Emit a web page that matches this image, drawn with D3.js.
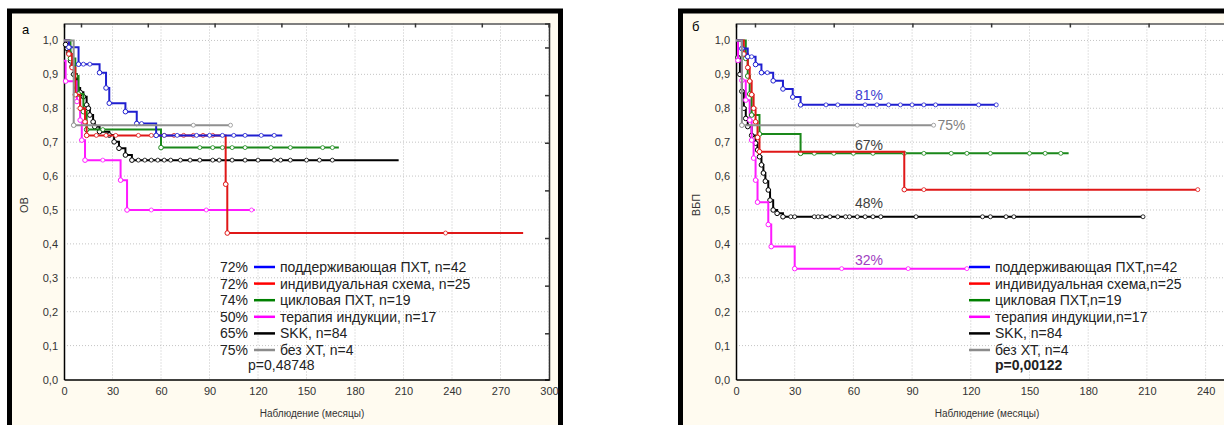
<!DOCTYPE html>
<html>
<head>
<meta charset="utf-8">
<script src="https://cdn.jsdelivr.net/npm/d3@7"></script>
<style>
body { margin: 0; background: #fff; }
text { font-family: "Liberation Sans", Arial, sans-serif; }
</style>
</head>
<body>
<script>
// tick labels
var xTicksOS = [0, 30, 60, 90, 120, 150, 180, 210, 240, 270, 300],
    xTicksPFS = [0, 30, 60, 90, 120, 150, 180, 210, 240],
    yTicks = [0, 0.1, 0.2, 0.3, 0.4, 0.5, 0.6, 0.7, 0.8, 0.9, 1.0];

var colors = ["#1f1fd0", "#e01818", "#1a881a", "#ff1aff", "#000000", "#909090"];
var legendColors = ["#0000ff", "#ff0000", "#008000", "#ff00ff", "#000000", "#8c8c8c"];

// legend texts
var osLabels = ["поддерживающая ПХТ, n=42", "индивидуальная схема, n=25", "цикловая ПХТ,  n=19",
                "терапия индукции, n=17", "SKK, n=84", "без ХТ, n=4"];
var osPct = ["72%", "72%", "74%", "50%", "65%", "75%"];
var osP = "p=0,48748";
var pfsLabels = ["поддерживающая ПХТ,n=42", "индивидуальная схема,n=25", "цикловая ПХТ,n=19",
                 "терапия индукции,n=17", "SKK, n=84", "без ХТ, n=4"];
var pfsP = "p=0,00122";

// OS curves: [month, survival], last point = end of follow-up
var osBlue = [[0,1],[3,0.98],[9,0.93],[22,0.905],[26,0.86],[28,0.815],[38,0.79],[45,0.755],[57,0.72],[135,0.72]];
var osRed = [[0,1],[3,0.96],[5,0.92],[7,0.84],[10,0.8],[13,0.76],[14,0.72],[100,0.576],[101,0.432],[284,0.432]];
var osGreen = [[0,1],[4,0.947],[7,0.895],[9,0.842],[12,0.79],[14,0.737],[60,0.684],[170,0.684]];
var osMagenta = [[0,0.94],[1,0.88],[8,0.82],[10,0.765],[11,0.706],[13,0.647],[35,0.588],[39,0.5],[118,0.5]];
var osBlack = [[0,1],[1,0.988],[2,0.976],[3,0.964],[4,0.94],[5,0.923],[6,0.9],[8,0.86],[10,0.847],[12,0.834],
               [14,0.81],[15,0.8],[16,0.78],[18,0.76],[19,0.746],[22,0.731],[28,0.721],[31,0.701],[34,0.682],
               [38,0.662],[42,0.647],[207,0.647]];
var osGray = [[0,1],[6,0.75],[103,0.75]];

var osBlueCens = [12, 16, 48, 62, 70, 82, 90, 98, 105, 112, 122, 130];
var osRedCens = [20, 26, 32, 46, 54, 62, 68, 74, 80, 86, 92, 236];
var osGreenCens = [24, 84, 92, 98, 104, 112, 128, 140, 160, 166];
var osMagentaCens = [24, 54, 88, 116];
var osBlackCens = [46, 50, 54, 58, 62, 66, 72, 78, 84, 92, 96, 104, 112, 120, 130, 134, 140, 150, 158, 166];
var osGrayCens = [80, 103];

// PFS curves
var pfsBlue = [[0,1],[3,0.976],[6,0.952],[10,0.929],[13,0.905],[19,0.881],[24,0.857],[29,0.833],[33,0.81],[133,0.81]];
var pfsRed = [[0,1],[4,0.96],[6,0.92],[7,0.88],[8,0.84],[9,0.8],[10,0.76],[11,0.714],[12,0.672],[86,0.56],[236,0.56]];
var pfsGreen = [[0,1],[5,0.947],[6,0.895],[7,0.842],[8,0.78],[12,0.724],[33,0.667],[170,0.667]];
var pfsMagenta = [[0,1],[1,0.941],[3,0.882],[5,0.824],[7,0.765],[8,0.706],[9,0.653],[10,0.588],[11,0.523],
                  [16.5,0.457],[18,0.392],[30,0.327],[118,0.327]];
var pfsBlack = [[0,1],[1,0.95],[2,0.9],[3,0.85],[4,0.8],[5,0.77],[6,0.746],[8,0.72],[10,0.697],[11,0.677],
                [12,0.657],[13,0.633],[14,0.609],[15,0.585],[16.5,0.559],[17.4,0.529],[19,0.5],[21,0.49],[24,0.48],[208,0.48]];
var pfsGray = [[0,1],[3,0.75],[101,0.75]];

var pfsBlueCens = [8, 16, 46, 52, 66, 72, 78, 84, 90, 96, 102, 124, 133];
var pfsRedCens = [96, 236];
var pfsGreenCens = [40, 50, 60, 70, 86, 96, 110, 118, 130, 150, 158, 166];
var pfsMagentaCens = [54, 88, 118];
var pfsBlackCens = [28, 30, 40, 42, 44, 48, 52, 56, 58, 62, 66, 70, 74, 92, 126, 130, 138, 142, 208];
var pfsGrayCens = [62, 101];

// labels on the PFS panel
var pfsNotes = [
  {text: "81%", t: 68, s: 0.84, color: "#4040d0"},
  {text: "75%", t: 103, s: 0.75, color: "#808080"},
  {text: "67%", t: 68, s: 0.692, color: "#404040"},
  {text: "48%", t: 68, s: 0.52, color: "#404040"},
  {text: "32%", t: 68, s: 0.352, color: "#a040c0"}
];

var width = 1224, height = 425;

var svg = d3.select("body").append("svg")
    .attr("width", width)
    .attr("height", height);

function panel(opt) {
  var g = svg.append("g");

  // panel frame
  g.append("rect")
      .attr("x", opt.frame[0]).attr("y", 11)
      .attr("width", opt.frame[1]).attr("height", 430)
      .attr("fill", "#fffbf0")
      .attr("stroke", "#000").attr("stroke-width", 5);

  var x = d3.scaleLinear().domain(opt.xDomain).range(opt.xRange);
  var y = d3.scaleLinear().domain([0, 1.05]).range([379.5, 23.5]);

  g.append("rect")
      .attr("x", opt.xRange[0]).attr("y", 23.5)
      .attr("width", opt.xRange[1] - opt.xRange[0]).attr("height", 356)
      .attr("fill", "#fff");

  // grid
  g.selectAll(".gx").data(opt.xTicks.slice(1)).enter().append("line")
      .attr("x1", function(d) { return x(d); }).attr("x2", function(d) { return x(d); })
      .attr("y1", 23.5).attr("y2", 379.5)
      .attr("stroke", "#c4c4c4").attr("stroke-dasharray", "1,2");
  g.selectAll(".gy").data(yTicks.slice(1)).enter().append("line")
      .attr("x1", opt.xRange[0]).attr("x2", opt.xRange[1])
      .attr("y1", function(d) { return y(d); }).attr("y2", function(d) { return y(d); })
      .attr("stroke", "#c4c4c4").attr("stroke-dasharray", "1,2");

  // secondary top / right axes (unlabelled)
  var xTop = d3.scaleLinear().domain(opt.topDomain).range(opt.xRange);
  g.append("g").attr("transform", "translate(0,23.5)")
      .call(d3.axisBottom(xTop).ticks(8).tickSize(4).tickFormat(""))
      .call(function(a) { a.select(".domain").attr("stroke", "#555").attr("stroke-width", 1.5); a.selectAll("line").attr("stroke", "#333").attr("stroke-width", 1.5); });
  var yRight = d3.scaleLinear().domain([-0.503, 6.97]).range([23.5, 379.5]);
  g.append("g").attr("transform", "translate(" + opt.xRange[1] + ",0)")
      .call(d3.axisLeft(yRight).tickValues([0, 1, 2, 3, 4, 5, 6]).tickSize(4).tickFormat(""))
      .call(function(a) { a.select(".domain").attr("stroke", "#333").attr("stroke-width", 1.5); a.selectAll("line").attr("stroke", "#333").attr("stroke-width", 1.5); });

  // main axes
  g.append("g").attr("transform", "translate(0,379.5)")
      .call(d3.axisBottom(x).tickValues(opt.xTicks).tickSize(0).tickPadding(8))
      .call(function(a) {
        a.select(".domain").attr("stroke", "#000").attr("stroke-width", 1.5);
        a.selectAll("text").attr("font-size", 11).attr("fill", "#333").style("font-family", "Liberation Sans, Arial");
      });
  g.append("g").attr("transform", "translate(" + opt.xRange[0] + ",0)")
      .call(d3.axisLeft(y).tickValues(yTicks).tickSize(0).tickPadding(6)
        .tickFormat(function(d) { return d3.format(".1f")(d).replace(".", ","); }))
      .call(function(a) {
        a.select(".domain").attr("stroke", "#000").attr("stroke-width", 1.5);
        a.selectAll("text").attr("font-size", 11).attr("fill", "#333").style("font-family", "Liberation Sans, Arial");
      });

  // titles
  g.append("text").attr("x", opt.letter[0]).attr("y", opt.letter[1])
      .attr("font-size", 13).text(opt.letterText);
  g.append("text")
      .attr("transform", "translate(" + opt.yTitleX + ",205) rotate(-90)")
      .attr("text-anchor", "middle").attr("font-size", 11).attr("fill", "#333")
      .text(opt.yTitle);
  g.append("text").attr("x", opt.xTitleX).attr("y", 417)
      .attr("text-anchor", "middle").attr("font-size", 10).attr("fill", "#333")
      .text("Наблюдение (месяцы)");

  // curves
  var line = d3.line()
      .x(function(d) { return x(d[0]); })
      .y(function(d) { return y(d[1]); })
      .curve(d3.curveStepAfter);

  var order = [4, 3, 2, 1, 0, 5];
  order.forEach(function(i) {
    var c = opt.curves[i];
    g.append("path").datum(c)
        .attr("fill", "none").attr("stroke", colors[i]).attr("stroke-width", 2)
        .attr("d", line);
    // event points
    g.selectAll(".ev" + i).data(c.slice(1, -1)).enter().append("circle")
        .attr("cx", function(d) { return x(d[0]); })
        .attr("cy", function(d) { return y(d[1]); })
        .attr("r", 2.3).attr("fill", "#fff").attr("stroke", colors[i]).attr("stroke-width", 1);
    // censored
    g.selectAll(".ce" + i).data(opt.cens[i]).enter().append("circle")
        .attr("cx", function(d) { return x(d); })
        .attr("cy", function(d) {
          var s = c[0][1];
          c.forEach(function(p) { if (p[0] <= d) s = p[1]; });
          return y(s);
        })
        .attr("r", 2).attr("fill", "#fff").attr("stroke", colors[i]).attr("stroke-width", 0.8);
  });

  // legend
  var lg = g.append("g");
  opt.labels.forEach(function(lab, i) {
    var ly = 267 + i * 16.6;
    if (opt.pct) {
      lg.append("text").attr("x", opt.legX - 6).attr("y", ly + 5)
          .attr("text-anchor", "end").attr("font-size", 14).attr("fill", "#222")
          .text(opt.pct[i]);
    }
    lg.append("line")
        .attr("x1", opt.legX).attr("x2", opt.legX + 21)
        .attr("y1", ly).attr("y2", ly)
        .attr("stroke", legendColors[i]).attr("stroke-width", 2.5);
    lg.append("text").attr("x", opt.legX + 26).attr("y", ly + 5)
        .attr("font-size", 14).attr("fill", "#222").text(lab);
  });
  lg.append("text").attr("x", opt.pX).attr("y", 370)
      .attr("font-size", 14).attr("fill", "#222")
      .attr("font-weight", opt.pBold ? "bold" : "normal")
      .text(opt.pText);

  if (opt.notes) {
    g.selectAll(".note").data(opt.notes).enter().append("text")
        .attr("x", function(d) { return x(d.t); })
        .attr("y", function(d) { return y(d.s); })
        .attr("dy", "0.35em")
        .attr("text-anchor", function(d) { return d.text === "75%" ? "start" : "middle"; })
        .attr("font-size", 14).attr("fill", function(d) { return d.color; })
        .text(function(d) { return d.text; });
  }
}

panel({
  frame: [9.5, 551],
  xDomain: [0, 300], xRange: [64, 549], xTicks: xTicksOS,
  topDomain: [-0.2545, 7.006],
  letter: [22, 34], letterText: "а",
  yTitle: "ОВ", yTitleX: 28, xTitleX: 312,
  curves: [osBlue, osRed, osGreen, osMagenta, osBlack, osGray],
  cens: [osBlueCens, osRedCens, osGreenCens, osMagentaCens, osBlackCens, osGrayCens],
  labels: osLabels, pct: osPct, legX: 254,
  pText: osP, pX: 248, pBold: false
});

panel({
  frame: [680.5, 600],
  xDomain: [0, 270], xRange: [736, 736 + 58.7 * 9], xTicks: xTicksPFS,
  topDomain: [-0.241, 6.47],
  letter: [692, 31], letterText: "б",
  yTitle: "ВБП", yTitleX: 700, xTitleX: 987,
  curves: [pfsBlue, pfsRed, pfsGreen, pfsMagenta, pfsBlack, pfsGray],
  cens: [pfsBlueCens, pfsRedCens, pfsGreenCens, pfsMagentaCens, pfsBlackCens, pfsGrayCens],
  labels: pfsLabels, pct: null, legX: 969,
  pText: pfsP, pX: 995, pBold: true,
  notes: pfsNotes
});
</script>
</body>
</html>
